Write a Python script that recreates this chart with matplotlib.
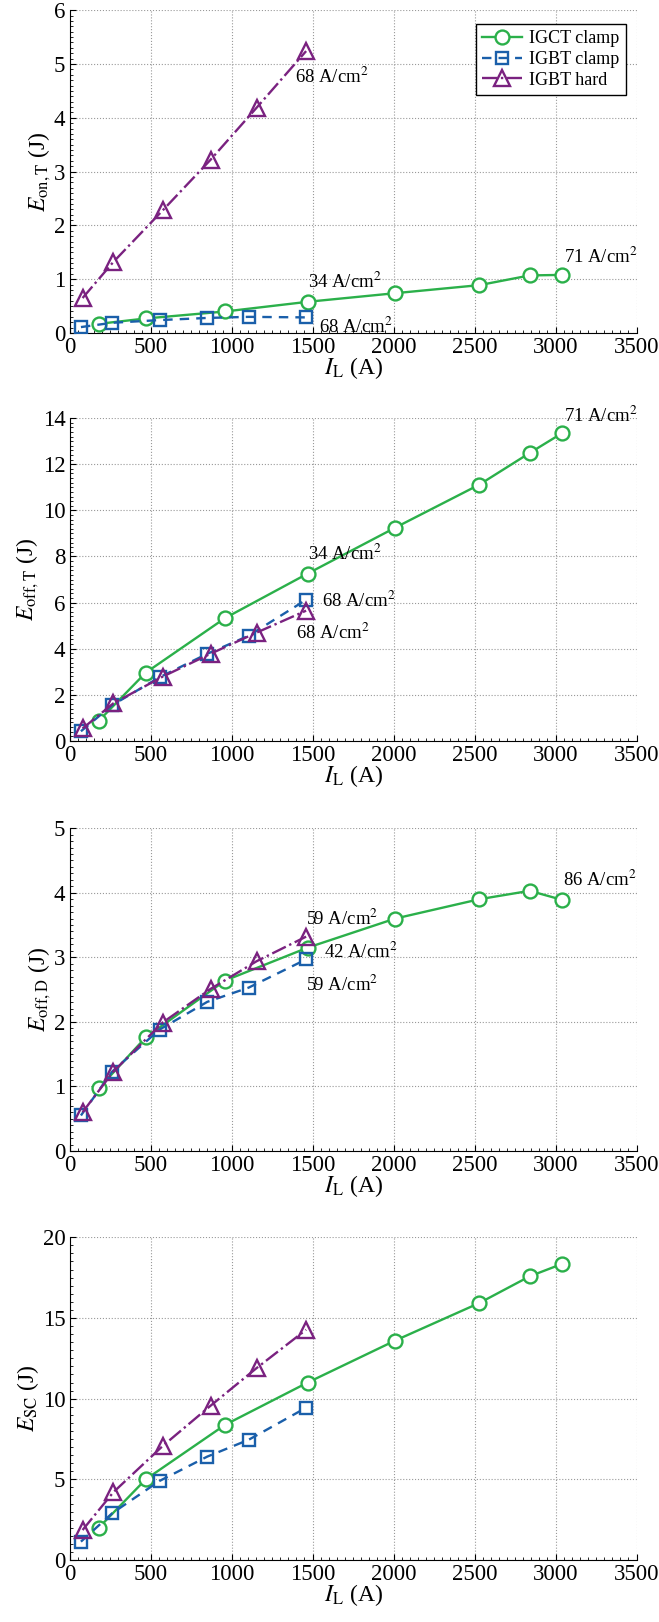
import matplotlib
matplotlib.use('Agg')
import matplotlib.pyplot as plt
from matplotlib.ticker import AutoMinorLocator

plt.rcParams['font.family'] = ['Liberation Serif', 'DejaVu Serif']
plt.rcParams['mathtext.fontset'] = 'stix'

GREEN = '#2bb04a'
BLUE = '#1a5faa'
PURPLE = '#7a2280'

# load current (A) for each device
igct_x = [180, 470, 960, 1470, 2010, 2530, 2840, 3040]
igbt_clamp_x = [70, 263, 555, 850, 1105, 1462]
igbt_hard_x = [80, 270, 575, 870, 1155, 1460]

# E_on,T (J)
eon_igct = [0.17, 0.27, 0.40, 0.58, 0.74, 0.89, 1.07, 1.08]
eon_clamp = [0.11, 0.19, 0.24, 0.28, 0.30, 0.29]
eon_hard = [0.65, 1.32, 2.28, 3.22, 4.19, 5.24]

# E_off,T (J)
eofft_igct = [0.87, 2.96, 5.33, 7.26, 9.25, 11.12, 12.49, 13.35]
eofft_clamp = [0.42, 1.55, 2.76, 3.78, 4.56, 6.13]
eofft_hard = [0.54, 1.63, 2.79, 3.78, 4.70, 5.65]

# E_off,D (J)
eoffd_igct = [0.97, 1.76, 2.64, 3.15, 3.60, 3.90, 4.03, 3.89]
eoffd_clamp = [0.55, 1.23, 1.88, 2.31, 2.53, 2.97]
eoffd_hard = [0.60, 1.23, 1.99, 2.51, 2.94, 3.32]

# E_SC (J)
esc_igct = [2.0, 5.0, 8.38, 11.0, 13.6, 15.93, 17.58, 18.35]
esc_clamp = [1.14, 2.9, 4.9, 6.41, 7.45, 9.45]
esc_hard = [1.86, 4.2, 7.07, 9.56, 11.9, 14.27]

panels = [
    (r'$E_{\mathrm{on,T}}$ (J)', eon_igct, eon_clamp, eon_hard, 6, range(0, 7, 1),
     [(1392, 4.76, '68'), (3052, 1.41, '71'), (1470, 0.95, '34'), (1540, 0.12, '68')]),
    (r'$E_{\mathrm{off,T}}$ (J)', eofft_igct, eofft_clamp, eofft_hard, 14, range(0, 15, 2),
     [(3052, 14.1, '71'), (1470, 8.1, '34'), (1561, 6.06, '68'), (1397, 4.68, '68')]),
    (r'$E_{\mathrm{off,D}}$ (J)', eoffd_igct, eoffd_clamp, eoffd_hard, 5, range(0, 6, 1),
     [(3047, 4.2, '86'), (1462, 3.6, '59'), (1569, 3.09, '42'), (1462, 2.58, '59')]),
    (r'$E_{\mathrm{SC}}$ (J)', esc_igct, esc_clamp, esc_hard, 20, range(0, 21, 5), []),
]

fig = plt.figure(figsize=(6.59, 16.22), dpi=100)
bottoms = [0.7947, 0.5432, 0.2904, 0.0382]
height = 0.199

for i, (ylab, yg, yc, yh, ymax, yticks, notes) in enumerate(panels):
    ax = fig.add_axes([0.1056, bottoms[i], 0.8604, height])
    ax.plot(igct_x, yg, '-o', color=GREEN, lw=1.7, ms=10, mfc='white', mew=1.7,
            label='IGCT clamp', zorder=3)
    ax.plot(igbt_clamp_x, yc, '--s', color=BLUE, lw=1.7, ms=8, mfc='none', mew=1.7,
            label='IGBT clamp', dashes=(4, 3), zorder=3)
    ax.plot(igbt_hard_x, yh, '-.^', color=PURPLE, lw=1.7, ms=11, mfc='none', mew=1.7,
            label='IGBT hard', zorder=3)

    ax.set_xlim(0, 3500)
    ax.set_ylim(0, ymax)
    ax.set_xticks(range(0, 3501, 500))
    ax.set_yticks(list(yticks))
    ax.xaxis.set_minor_locator(AutoMinorLocator(10))
    ax.yaxis.set_minor_locator(AutoMinorLocator(10))
    ax.grid(True, which='major', linestyle=':', color='#999999', lw=0.8)
    ax.spines['top'].set_visible(False)
    ax.spines['right'].set_visible(False)
    ax.tick_params(which='major', direction='in', length=4, labelsize=16.5, pad=3)
    ax.tick_params(which='minor', direction='in', length=2, width=0.6)
    ax.set_xlabel(r'$I_{\mathrm{L}}$ (A)', fontsize=17, labelpad=-2)
    ax.set_ylabel(ylab, fontsize=17, labelpad=1)

    for x, y, val in notes:
        ax.text(x, y, val + r' A/cm$^2$', fontsize=13.5, va='center', ha='left',
                clip_on=False)

    if i == 0:
        leg = ax.legend(loc='upper right', bbox_to_anchor=(0.997, 0.985), fontsize=13,
                        fancybox=False, framealpha=1, edgecolor='black',
                        handlelength=2.2, borderpad=0.35, labelspacing=0.2,
                        handletextpad=0.4)
        leg.get_frame().set_linewidth(1.0)

fig.savefig('out.png', dpi=100)
